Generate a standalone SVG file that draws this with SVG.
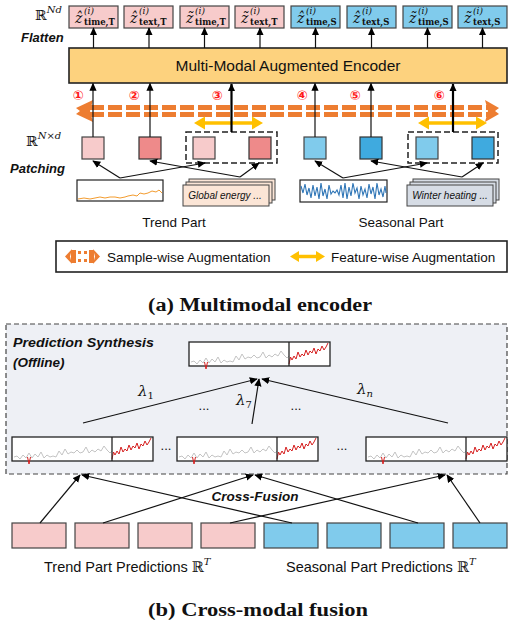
<svg xmlns="http://www.w3.org/2000/svg" xmlns:xlink="http://www.w3.org/1999/xlink" width="508" height="623" viewBox="0 0 508 623">
<style>
.sans{font-family:"Liberation Sans","DejaVu Sans",sans-serif;fill:#111}
.bi{font-family:"Liberation Sans","DejaVu Sans",sans-serif;font-weight:bold;font-style:italic;fill:#111}
.math{font-family:"DejaVu Serif","Liberation Serif",serif;fill:#111}
.mi{font-family:"DejaVu Serif","Liberation Serif",serif;font-style:italic;fill:#111}
.cap{font-family:"Liberation Serif","DejaVu Serif",serif;font-weight:bold;fill:#111}
.circ{font-family:"DejaVu Sans","Noto Sans CJK SC",sans-serif;fill:#ff1a1a;font-size:13px;font-weight:bold;text-anchor:middle}
.pk{fill:#F7CBCB;stroke:#444;stroke-width:1.2}
.pkd{fill:#EE8A8A;stroke:#333;stroke-width:1.2}
.bl{fill:#80CBEC;stroke:#444;stroke-width:1.2}
.bld{fill:#3FAADF;stroke:#333;stroke-width:1.2}
.ln{stroke:#111;stroke-width:1.2;fill:none}
.lnb{stroke:#000;stroke-width:2.2;fill:none}
.dash{fill:none;stroke:#222;stroke-width:1.5;stroke-dasharray:6 3}
.or{stroke:#ED7D31;stroke-width:5;stroke-dasharray:14 4;fill:none}
.ye{stroke:#FFC000;stroke-width:3.5;fill:none}
</style>
<defs>
<marker id="ah" viewBox="0 0 10 10" refX="9" refY="5" markerWidth="8" markerHeight="8" orient="auto" markerUnits="userSpaceOnUse">
<path d="M0,0.5 L10,5 L0,9.5 z" fill="#000"/>
</marker>
<g id="chart">
<rect width="141" height="24" fill="#fff" stroke="#222" stroke-width="1.3"/>
<polyline fill="none" stroke="#c4c4c4" stroke-width="1" points="2,20 5,19 8,22 11,18 14,21 17,16 20,21 23,17 26,20 29,15 32,21 35,18 38,20 41,19 44,20 47,14 50,18 53,12 56,17 59,15 62,16 65,13 68,16 71,15 74,10 77,16 80,13 83,15 86,12 89,14 92,9 95,13 98,16 100,14"/>
<polyline fill="none" stroke="#d62020" stroke-width="1" points="15.5,20 17,27 18.5,20"/>
<polyline fill="none" stroke="#d62020" stroke-width="1" points="100,22 101.5,15 103,18 105,14 107,17 109,10 111,15 113,12 115,14 117,8 119,13 121,9 123,11 125,6 127,12 129,7 131,9 133,4 135,8 137,5 139,1"/>
<line x1="100" y1="0" x2="100" y2="24" stroke="#222" stroke-width="1.3"/>
</g>
</defs>
<rect width="508" height="623" fill="#fff"/>

<!-- ===== (a) labels ===== -->
<g id="labels-a">
<text class="math" x="35" y="20" font-size="14">ℝ<tspan class="mi" font-size="10" dy="-7">Nd</tspan></text>
<text class="bi" x="21" y="42" font-size="13">Flatten</text>
<text class="math" x="26" y="146" font-size="14">ℝ<tspan class="mi" font-size="10" dy="-7">N×d</tspan></text>
<text class="bi" x="10" y="173" font-size="13">Patching</text>
</g>

<!-- ===== top output boxes ===== -->
<g id="out1"><rect class="pk" x="69" y="6" width="49" height="22"/><text class="mi" x="75" y="23" font-size="14">ẑ</text><text class="mi" x="84" y="14" font-size="9">(i)</text><text class="math" x="84" y="25" font-size="8.5" font-weight="bold">time,T</text></g>
<g id="out2"><rect class="pk" x="124" y="6" width="49" height="22"/><text class="mi" x="130" y="23" font-size="14">ẑ</text><text class="mi" x="139" y="14" font-size="9">(i)</text><text class="math" x="139" y="25" font-size="8.5" font-weight="bold">text,T</text></g>
<g id="out3"><rect class="pk" x="180" y="6" width="49" height="22"/><text class="mi" x="186" y="23" font-size="14">z̃</text><text class="mi" x="195" y="14" font-size="9">(i)</text><text class="math" x="195" y="25" font-size="8.5" font-weight="bold">time,T</text></g>
<g id="out4"><rect class="pk" x="235" y="6" width="49" height="22"/><text class="mi" x="241" y="23" font-size="14">z̃</text><text class="mi" x="250" y="14" font-size="9">(i)</text><text class="math" x="250" y="25" font-size="8.5" font-weight="bold">text,T</text></g>
<g id="out5"><rect class="bl" x="291" y="6" width="49" height="22"/><text class="mi" x="297" y="23" font-size="14">ẑ</text><text class="mi" x="306" y="14" font-size="9">(i)</text><text class="math" x="306" y="25" font-size="8.5" font-weight="bold">time,S</text></g>
<g id="out6"><rect class="bl" x="347" y="6" width="49" height="22"/><text class="mi" x="353" y="23" font-size="14">ẑ</text><text class="mi" x="362" y="14" font-size="9">(i)</text><text class="math" x="362" y="25" font-size="8.5" font-weight="bold">text,S</text></g>
<g id="out7"><rect class="bl" x="403" y="6" width="49" height="22"/><text class="mi" x="409" y="23" font-size="14">z̃</text><text class="mi" x="418" y="14" font-size="9">(i)</text><text class="math" x="418" y="25" font-size="8.5" font-weight="bold">time,S</text></g>
<g id="out8"><rect class="bl" x="458" y="6" width="49" height="22"/><text class="mi" x="464" y="23" font-size="14">z̃</text><text class="mi" x="473" y="14" font-size="9">(i)</text><text class="math" x="473" y="25" font-size="8.5" font-weight="bold">text,S</text></g>

<!-- ===== encoder ===== -->
<g id="encoder">
<rect x="69" y="48" width="438" height="35" fill="#FDD27E" stroke="#222" stroke-width="1.6"/>
<text class="sans" x="288" y="71" font-size="15.5" text-anchor="middle">Multi-Modal Augmented Encoder</text>
</g>

<!-- circled numbers -->
<g id="nums">
<text class="circ" x="78" y="100">①</text>
<text class="circ" x="134" y="100">②</text>
<text class="circ" x="217" y="100">③</text>
<text class="circ" x="302" y="100">④</text>
<text class="circ" x="355" y="100">⑤</text>
<text class="circ" x="439" y="100">⑥</text>
</g>

<!-- sample-wise augmentation arrow -->
<g id="sample-aug">
<line class="or" x1="90" y1="107.5" x2="488" y2="107.5"/>
<line class="or" x1="90" y1="114.5" x2="488" y2="114.5"/>
<polygon fill="#ED7D31" points="93,100 76,108 80,111 76,114 93,122 90,111"/>
<polygon fill="#ED7D31" points="485,100 499,108 495,111 499,114 485,122 488,111"/>
</g>

<!-- feature-wise augmentation arrows -->
<g id="feat-aug-1">
<line class="ye" x1="202" y1="123" x2="255" y2="123"/>
<polygon fill="#FFC000" points="194,123 205,116.5 205,129.5"/>
<polygon fill="#FFC000" points="263,123 252,116.5 252,129.5"/>
</g>
<g id="feat-aug-2">
<line class="ye" x1="426" y1="123" x2="479" y2="123"/>
<polygon fill="#FFC000" points="418,123 429,116.5 429,129.5"/>
<polygon fill="#FFC000" points="487,123 476,116.5 476,129.5"/>
</g>

<!-- patch boxes -->
<g id="patch1"><rect class="pk" x="82" y="137" width="22" height="22"/></g>
<g id="patch2"><rect class="pkd" x="139" y="137" width="22" height="22"/></g>
<g id="patch3"><rect class="pk" x="193" y="137" width="22" height="22"/></g>
<g id="patch4"><rect class="pkd" x="249" y="137" width="22" height="22"/></g>
<g id="patch5"><rect class="bl" x="304" y="137" width="22" height="22"/></g>
<g id="patch6"><rect class="bld" x="360" y="137" width="22" height="22"/></g>
<g id="patch7"><rect class="bl" x="416" y="137" width="22" height="22"/></g>
<g id="patch8"><rect class="bld" x="472" y="137" width="22" height="22"/></g>
<g id="group-trend"><rect class="dash" x="186" y="132" width="91" height="31"/></g>
<g id="group-season"><rect class="dash" x="408" y="132" width="90" height="31"/></g>

<!-- data inputs -->
<g id="trend-series">
<rect x="77" y="180" width="86" height="21" fill="#fff" stroke="#222" stroke-width="1.2"/>
<polyline fill="none" stroke="#F39C2F" stroke-width="1" points="78,199 84,198 90,199 95,198 100,197 105,198 110,197 115,197 120,198 125,197 128,196 133,195 137,196 140,193 144,194 148,193 152,191 156,192 159,190 162,193"/>
</g>
<g id="trend-text">
<rect x="189" y="179" width="86" height="21" fill="#FBE5D6" stroke="#444" stroke-width="1"/>
<rect x="186" y="182" width="86" height="21" fill="#FBE5D6" stroke="#444" stroke-width="1"/>
<rect x="183" y="185" width="86" height="21" fill="#FBE5D6" stroke="#444" stroke-width="1"/>
<text class="sans" x="225" y="199" font-size="10" font-style="italic" text-anchor="middle" fill="#333">Global energy ...</text>
</g>
<g id="season-series">
<rect x="300" y="180" width="87" height="22" fill="#fff" stroke="#222" stroke-width="1.2"/>
<polyline fill="none" stroke="#2E75B6" stroke-width="1.1" points="301,186 303,193 305,184 307,195 309,188 311,198 313,185 315,196 317,187 319,199 321,183 323,196 325,189 327,199 329,185 331,194 333,191 335,193 337,190 339,195 341,185 343,198 345,183 347,199 349,187 351,196 353,183 355,193 357,188 359,199 361,186 363,195 365,189 367,198 369,184 371,194 373,187 375,199 377,183 379,195 381,189 383,197 385,186 386,193"/>
</g>
<g id="season-text">
<rect x="413" y="179" width="86" height="21" fill="#D6DCE5" stroke="#444" stroke-width="1"/>
<rect x="410" y="182" width="86" height="21" fill="#D6DCE5" stroke="#444" stroke-width="1"/>
<rect x="407" y="185" width="86" height="21" fill="#D6DCE5" stroke="#444" stroke-width="1"/>
<text class="sans" x="450" y="199" font-size="10" font-style="italic" text-anchor="middle" fill="#333">Winter heating ...</text>
</g>

<!-- connectors (a) -->
<g id="connectors-a">
<line class="ln" x1="93.5" y1="48" x2="93.5" y2="28" marker-end="url(#ah)"/>
<line class="ln" x1="149" y1="48" x2="149" y2="28" marker-end="url(#ah)"/>
<line class="ln" x1="204.5" y1="48" x2="204.5" y2="28" marker-end="url(#ah)"/>
<line class="ln" x1="260" y1="48" x2="260" y2="28" marker-end="url(#ah)"/>
<line class="ln" x1="315.5" y1="48" x2="315.5" y2="28" marker-end="url(#ah)"/>
<line class="ln" x1="371.5" y1="48" x2="371.5" y2="28" marker-end="url(#ah)"/>
<line class="ln" x1="427.5" y1="48" x2="427.5" y2="28" marker-end="url(#ah)"/>
<line class="ln" x1="482.5" y1="48" x2="482.5" y2="28" marker-end="url(#ah)"/>

<line class="ln" x1="93" y1="137" x2="93" y2="83.5" marker-end="url(#ah)"/>
<line class="ln" x1="150" y1="137" x2="150" y2="83.5" marker-end="url(#ah)"/>
<line class="lnb" x1="231.5" y1="132" x2="231.5" y2="84" marker-end="url(#ah)"/>
<line class="ln" x1="315" y1="137" x2="315" y2="83.5" marker-end="url(#ah)"/>
<line class="ln" x1="371" y1="137" x2="371" y2="83.5" marker-end="url(#ah)"/>
<line class="lnb" x1="453" y1="132" x2="453" y2="84" marker-end="url(#ah)"/>

<line class="ln" x1="120" y1="178" x2="93" y2="161" marker-end="url(#ah)"/>
<line class="ln" x1="120" y1="178" x2="205" y2="163" marker-end="url(#ah)"/>
<line class="ln" x1="240" y1="177" x2="150" y2="161" marker-end="url(#ah)"/>
<line class="ln" x1="240" y1="177" x2="259" y2="163" marker-end="url(#ah)"/>
<line class="ln" x1="343" y1="178" x2="315" y2="161" marker-end="url(#ah)"/>
<line class="ln" x1="343" y1="178" x2="427" y2="163" marker-end="url(#ah)"/>
<line class="ln" x1="462" y1="177" x2="371" y2="161" marker-end="url(#ah)"/>
<line class="ln" x1="462" y1="177" x2="483" y2="163" marker-end="url(#ah)"/>
</g>

<g id="part-labels">
<text class="sans" x="174" y="227" font-size="13.5" text-anchor="middle">Trend Part</text>
<text class="sans" x="401" y="227" font-size="13.5" text-anchor="middle">Seasonal Part</text>
</g>

<!-- legend -->
<g id="legend">
<rect x="56" y="241" width="451" height="31" fill="#fff" stroke="#222" stroke-width="1.6"/>
<polygon fill="#ED7D31" points="72,249 65,256.5 72,264 70,256.5"/>
<rect x="71" y="250" width="5" height="13" fill="#ED7D31"/>
<rect x="78" y="251" width="3" height="3" fill="#ED7D31"/><rect x="78" y="259" width="3" height="3" fill="#ED7D31"/>
<rect x="84" y="251" width="3" height="3" fill="#ED7D31"/><rect x="84" y="259" width="3" height="3" fill="#ED7D31"/>
<rect x="89" y="250" width="5" height="13" fill="#ED7D31"/>
<polygon fill="#ED7D31" points="93,249 100,256.5 93,264 95,256.5"/>
<text class="sans" x="107" y="262" font-size="13.5">Sample-wise Augmentation</text>
<line class="ye" x1="297" y1="256.5" x2="318" y2="256.5" stroke-width="3"/>
<polygon fill="#FFC000" points="290,256.5 299,251 299,262"/>
<polygon fill="#FFC000" points="325,256.5 316,251 316,262"/>
<text class="sans" x="331" y="262" font-size="13.5">Feature-wise Augmentation</text>
</g>

<text class="cap" x="260" y="311" font-size="18" text-anchor="middle" textLength="224" lengthAdjust="spacingAndGlyphs">(a) Multimodal encoder</text>

<!-- ===== (b) ===== -->
<g id="synthesis-area">
<rect x="6" y="324" width="501" height="150" fill="#EEF0F5" stroke="#444" stroke-width="1.2" stroke-dasharray="5 3"/>
<text class="bi" x="13" y="347" font-size="13.5" textLength="141" lengthAdjust="spacingAndGlyphs">Prediction Synthesis</text>
<text class="bi" x="13" y="367" font-size="13.5">(Offline)</text>
</g>
<g id="chart-top"><use xlink:href="#chart" href="#chart" x="189" y="342"/></g>
<g id="chart-1"><use xlink:href="#chart" href="#chart" x="12" y="437"/></g>
<g id="chart-2"><use xlink:href="#chart" href="#chart" x="177" y="437"/></g>
<g id="chart-3"><use xlink:href="#chart" href="#chart" x="366" y="437"/></g>

<g id="dots-b">
<text class="sans" x="166" y="450" font-size="13" text-anchor="middle">...</text>
<text class="sans" x="342" y="450" font-size="13" text-anchor="middle">...</text>
<text class="sans" x="204" y="410" font-size="13" text-anchor="middle">...</text>
<text class="sans" x="296" y="410" font-size="13" text-anchor="middle">...</text>
</g>

<g id="lambdas">
<text class="mi" x="138" y="396" font-size="15">λ<tspan font-size="10" dy="3" font-style="normal">1</tspan></text>
<text class="mi" x="236" y="405" font-size="15">λ<tspan font-size="10" dy="3" font-style="normal">7</tspan></text>
<text class="mi" x="357" y="394" font-size="15">λ<tspan font-size="10" dy="3">n</tspan></text>
</g>

<!-- bottom prediction boxes -->
<g id="pred1"><rect class="pk" x="12" y="523" width="54" height="25"/></g>
<g id="pred2"><rect class="pk" x="75" y="523" width="54" height="25"/></g>
<g id="pred3"><rect class="pk" x="138" y="523" width="54" height="25"/></g>
<g id="pred4"><rect class="pk" x="201" y="523" width="54" height="25"/></g>
<g id="pred5"><rect class="bl" x="264" y="523" width="54" height="25"/></g>
<g id="pred6"><rect class="bl" x="327" y="523" width="54" height="25"/></g>
<g id="pred7"><rect class="bl" x="390" y="523" width="54" height="25"/></g>
<g id="pred8"><rect class="bl" x="453" y="523" width="54" height="25"/></g>

<g id="connectors-b">
<line class="ln" x1="83" y1="423" x2="257" y2="379" marker-end="url(#ah)"/>
<line class="ln" x1="252" y1="424" x2="259" y2="379" marker-end="url(#ah)"/>
<line class="ln" x1="448" y1="423" x2="262" y2="379" marker-end="url(#ah)"/>
<line class="ln" x1="40" y1="523" x2="80" y2="475" marker-end="url(#ah)"/>
<line class="ln" x1="103" y1="523" x2="253" y2="475" marker-end="url(#ah)"/>
<line class="ln" x1="230" y1="523" x2="445" y2="475" marker-end="url(#ah)"/>
<line class="ln" x1="292" y1="523" x2="82" y2="475" marker-end="url(#ah)"/>
<line class="ln" x1="418" y1="523" x2="255" y2="475" marker-end="url(#ah)"/>
<line class="ln" x1="480" y1="523" x2="447" y2="475" marker-end="url(#ah)"/>
</g>
<text class="bi" x="255" y="501" font-size="13.5" text-anchor="middle">Cross-Fusion</text>

<g id="pred-labels">
<text class="sans" x="44" y="572" font-size="14.5">Trend Part Predictions <tspan class="math">ℝ</tspan><tspan class="mi" font-size="10" dy="-7">T</tspan></text>
<text class="sans" x="286" y="572" font-size="14.5">Seasonal Part Predictions <tspan class="math">ℝ</tspan><tspan class="mi" font-size="10" dy="-7">T</tspan></text>
</g>

<text class="cap" x="258" y="616" font-size="18" text-anchor="middle" textLength="220" lengthAdjust="spacingAndGlyphs">(b) Cross-modal fusion</text>
</svg>
